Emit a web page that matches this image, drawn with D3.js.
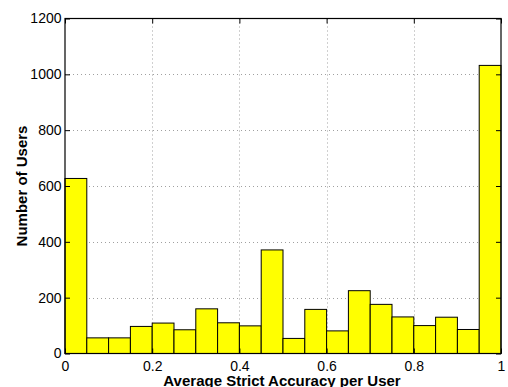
<!DOCTYPE html>
<html>
<head>
<meta charset="utf-8">
<script src="https://cdn.jsdelivr.net/npm/d3@7"></script>
<style>
  html, body { margin: 0; padding: 0; background: #fff; }
  svg { display: block; }
  text { font-family: "Liberation Sans", Arial, Helvetica, sans-serif; }
</style>
</head>
<body>
<svg id="chart" width="508" height="387"></svg>
<script>
// Histogram of per-user accuracy, 20 bins of width 0.05
const binStarts = [0, 0.05, 0.10, 0.15, 0.20, 0.25, 0.30, 0.35, 0.40, 0.45,
                   0.50, 0.55, 0.60, 0.65, 0.70, 0.75, 0.80, 0.85, 0.90, 0.95];
const binWidth = 0.05;
const counts = [627, 56, 56, 97, 109, 85, 160, 110, 99, 371,
                54, 158, 81, 225, 176, 131, 100, 130, 86, 1032];
const xTicks = [0, 0.2, 0.4, 0.6, 0.8, 1];
const yTicks = [0, 200, 400, 600, 800, 1000, 1200];
const xTitle = "Average Strict Accuracy per User";
const yTitle = "Number of Users";

const svg = d3.select("#chart");
const plotLeft = 65, plotRight = 501, plotTop = 18.5, plotBottom = 353.5;

const x = d3.scaleLinear().domain([0, 1]).range([plotLeft, plotRight]);
const y = d3.scaleLinear().domain([0, 1200]).range([plotBottom, plotTop]);

// dotted grid
const grid = svg.append("g");
grid.selectAll("line.gx").data(xTicks.slice(1, -1)).join("line")
  .attr("x1", d => Math.round(x(d)) + 0.5).attr("x2", d => Math.round(x(d)) + 0.5)
  .attr("y1", plotTop).attr("y2", plotBottom)
  .attr("stroke", "#888").attr("stroke-width", 0.8).attr("stroke-dasharray", "1,3");
grid.selectAll("line.gy").data(yTicks.slice(1, -1)).join("line")
  .attr("y1", d => Math.round(y(d)) + 0.5).attr("y2", d => Math.round(y(d)) + 0.5)
  .attr("x1", plotLeft).attr("x2", plotRight)
  .attr("stroke", "#888").attr("stroke-width", 0.8).attr("stroke-dasharray", "1,3");

// bars
svg.append("g").selectAll("rect").data(counts).join("rect")
  .attr("x", (d, i) => x(binStarts[i]))
  .attr("width", (d, i) => x(binStarts[i] + binWidth) - x(binStarts[i]))
  .attr("y", d => y(d))
  .attr("height", d => y(0) - y(d))
  .attr("fill", "#ffff00")
  .attr("stroke", "#000")
  .attr("stroke-width", 1);

// axes with inward ticks
const tickLen = 5;
const xAxis = d3.axisBottom(x).tickValues(xTicks).tickFormat(d3.format("~g"))
  .tickSizeInner(-tickLen).tickSizeOuter(0).tickPadding(7.5);
const yAxis = d3.axisLeft(y).tickValues(yTicks).tickFormat(d3.format("d"))
  .tickSizeInner(-tickLen).tickSizeOuter(0).tickPadding(3.5);

const gx = svg.append("g").attr("transform", `translate(0,${plotBottom})`).call(xAxis);
const gy = svg.append("g").attr("transform", `translate(${plotLeft},0)`).call(yAxis);
// top and right mirrored ticks
const gxTop = svg.append("g").attr("transform", `translate(0,${plotTop})`)
  .call(d3.axisTop(x).tickValues(xTicks).tickSizeInner(-tickLen).tickSizeOuter(0).tickFormat(""));
const gyRight = svg.append("g").attr("transform", `translate(${plotRight},0)`)
  .call(d3.axisRight(y).tickValues(yTicks).tickSizeInner(-tickLen).tickSizeOuter(0).tickFormat(""));

[gx, gy, gxTop, gyRight].forEach(g => {
  g.select(".domain").remove();
  g.selectAll(".tick line").attr("stroke", "#000").attr("stroke-width", 1);
  g.selectAll(".tick text").attr("fill", "#000").attr("font-size", 14)
    .attr("font-family", "'Liberation Sans', Arial, sans-serif");
});

// frame
svg.append("rect").attr("x", plotLeft).attr("y", plotTop)
  .attr("width", plotRight - plotLeft).attr("height", plotBottom - plotTop)
  .attr("fill", "none").attr("stroke", "#000").attr("stroke-width", 1.2);

// titles
svg.append("text")
  .attr("x", 282).attr("y", 386)
  .attr("text-anchor", "middle").attr("font-size", 15).attr("font-weight", "bold")
  .text(xTitle);
svg.append("text")
  .attr("transform", `translate(26.5,${(plotTop + plotBottom) / 2}) rotate(-90)`)
  .attr("text-anchor", "middle").attr("font-size", 15).attr("font-weight", "bold")
  .text(yTitle);
</script>
</body>
</html>
